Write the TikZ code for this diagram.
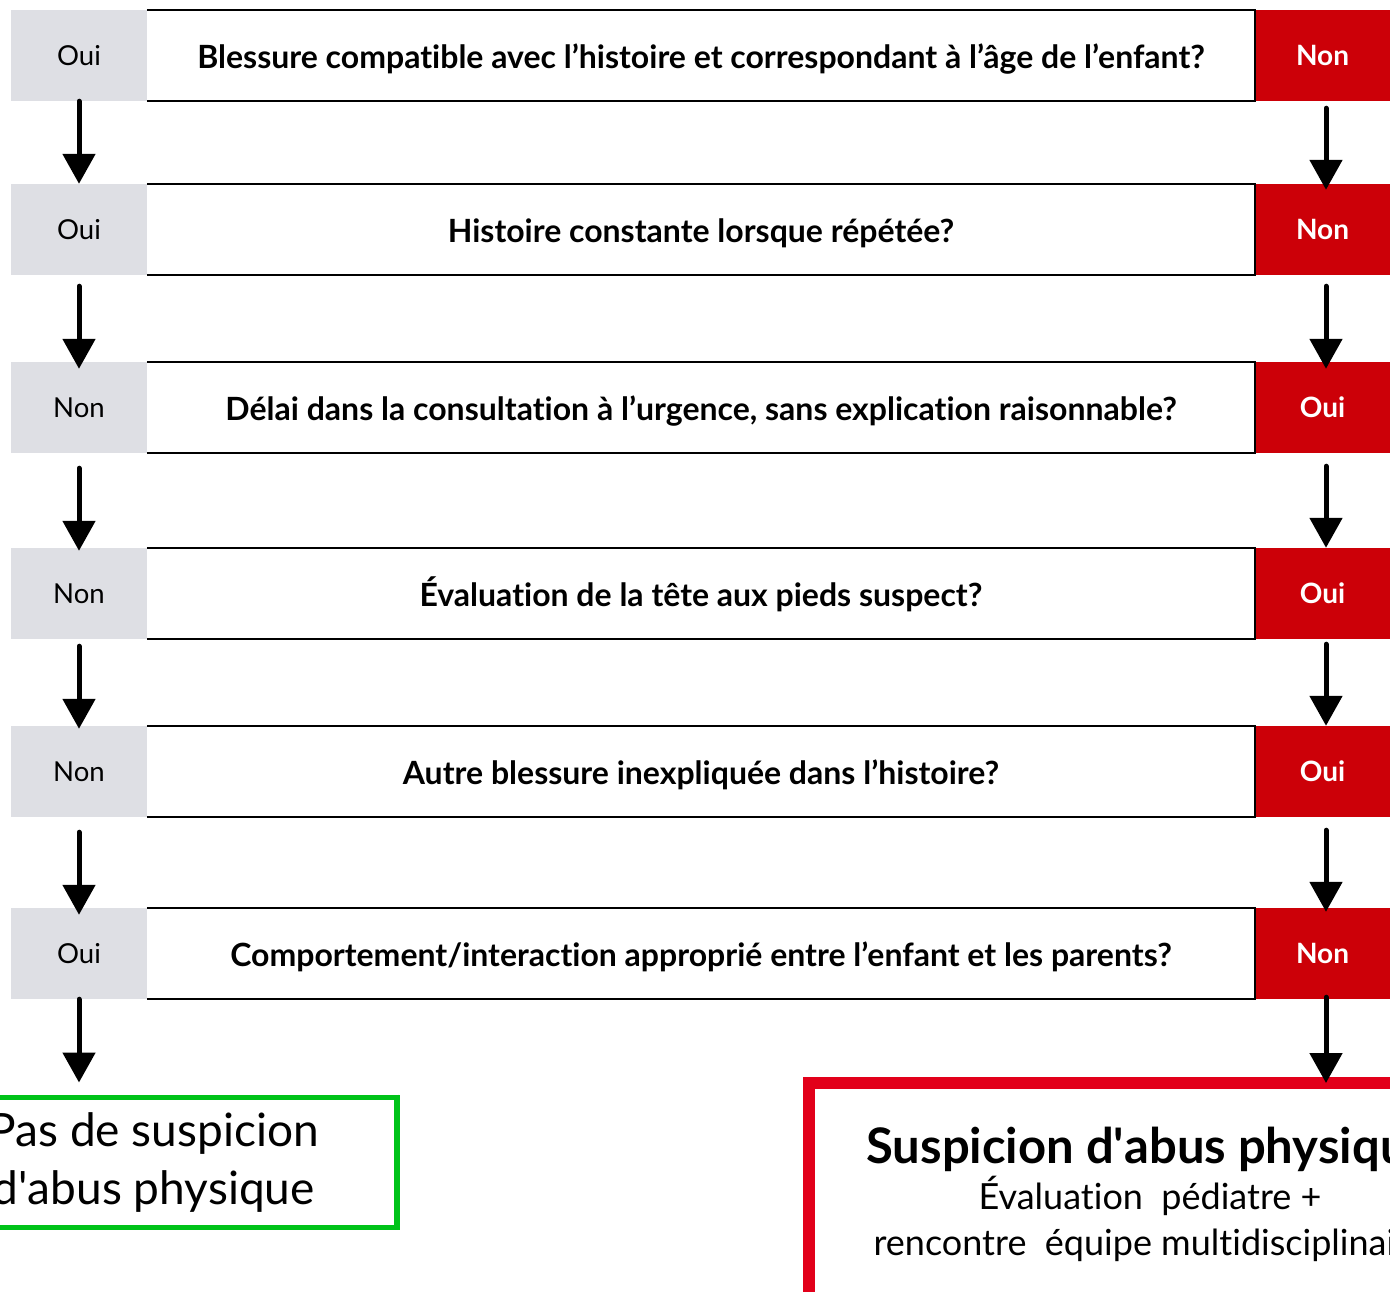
\documentclass[tikz,border=0pt]{standalone}
\usepackage{fontspec}
\setmainfont{Lato}[Ligatures={TeX,NoCommon}]
\usetikzlibrary{arrows.meta,calc}
\definecolor{graybox}{HTML}{DEDFE4}
\definecolor{redbox}{HTML}{CC0008}
\definecolor{redframe}{HTML}{E2001A}
\definecolor{greenframe}{HTML}{00C319}
\begin{document}
\begin{tikzpicture}[x=1pt,y=-1pt,
  lbox/.style={fill=graybox, minimum width=136pt, minimum height=91pt, inner sep=0pt, font=\fontsize{27.5}{30}\selectfont},
  rbox/.style={fill=redbox, text=white, minimum width=135pt, minimum height=91pt, inner sep=0pt, font=\bfseries\fontsize{28}{30}\selectfont},
  qbox/.style={minimum width=1108pt, minimum height=91pt, inner sep=0pt, text height=25pt, text depth=0pt, font=\bfseries\fontsize{32}{36}\selectfont},
  qline/.style={line width=1.5pt},
  arr/.style={line width=5pt, line cap=round, -{Triangle[width=32pt,length=30pt]}},
]
\useasboundingbox (0,0) rectangle (1390,1291);
\clip (0,0) rectangle (1390,1291);
% rows
\foreach \i/\y/\l/\r/\q in {
  1/55.5/Oui/Non/{Blessure compatible avec l’histoire et correspondant à l’âge de l’enfant?},
  2/229.5/Oui/Non/{Histoire constante lorsque répétée?},
  3/407.5/Non/Oui/{Délai dans la consultation à l’urgence, sans explication raisonnable?},
  4/593.5/Non/Oui/{Évaluation de la tête aux pieds suspect?},
  5/771.5/Non/Oui/{Autre blessure inexpliquée dans l’histoire?},
  6/953.5/Oui/Non/{Comportement/interaction approprié entre l’enfant et les parents?}}{
  \node[lbox] (g\i) at (79,\y) {\l};
  \node[qbox] (q\i) at (701,\y) {\q};
  \node[rbox] (r\i) at (1322.5,\y) {\r};
  \draw[qline] (q\i.north west) -- (q\i.north east) -- (q\i.south east) -- (q\i.south west);
}
% outcome boxes
\node[draw=greenframe, line width=5pt, minimum width=487.5pt, minimum height=130pt, inner sep=0pt,
      align=center, font=\fontsize{46}{58}\selectfont] (ok) at (153.75,1162)
      {Pas de suspicion\\d\textquotesingle abus physique};
\draw[greenframe, line width=5pt] ([xshift=-4pt]ok.north east) -- ([xshift=-4pt]ok.south east);
\node[draw=redframe, line width=12pt, minimum width=682pt, minimum height=400pt, inner sep=0pt] (susp) at (1150,1283) {};
\node[anchor=north, inner sep=0pt, align=center, font=\fontsize{36}{46}\selectfont] (susptxt) at (1150,1127)
      {{\bfseries\fontsize{49}{46}\selectfont Suspicion d\textquotesingle abus physique}\\Évaluation~ pédiatre +\\rencontre~ équipe multidisciplinaire};
% left arrows
\draw[arr] (g1.south) -- (g2.north);
\draw[arr, shorten <=11pt, shorten >=-7pt] (g2.south) -- (g3.north);
\draw[arr, shorten <=15pt, shorten >=-3pt] (g3.south) -- (g4.north);
\draw[arr, shorten <=7pt, shorten >=-3pt] (g4.south) -- (g5.north);
\draw[arr, shorten <=15pt, shorten >=-7pt] (g5.south) -- (g6.north);
\draw[arr, shorten >=12pt] (g6.south) -- (g6.south |- ok.north);
% right arrows
\draw[arr, shorten <=7pt, shorten >=-6pt] ([xshift=3.5pt]r1.south) -- ([xshift=3.5pt]r2.north);
\draw[arr, shorten <=11pt, shorten >=-7pt] ([xshift=3.5pt]r2.south) -- ([xshift=3.5pt]r3.north);
\draw[arr, shorten <=13pt] ([xshift=3.5pt]r3.south) -- ([xshift=3.5pt]r4.north);
\draw[arr, shorten <=5pt] ([xshift=3.5pt]r4.south) -- ([xshift=3.5pt]r5.north);
\draw[arr, shorten <=13pt, shorten >=-4pt] ([xshift=3.5pt]r5.south) -- ([xshift=3.5pt]r6.north);
\draw[arr, shorten <=-2pt, shorten >=-6pt] ([xshift=3.5pt]r6.south) -- ([xshift=3.5pt]r6.south |- susp.north);
\end{tikzpicture}
\end{document}
